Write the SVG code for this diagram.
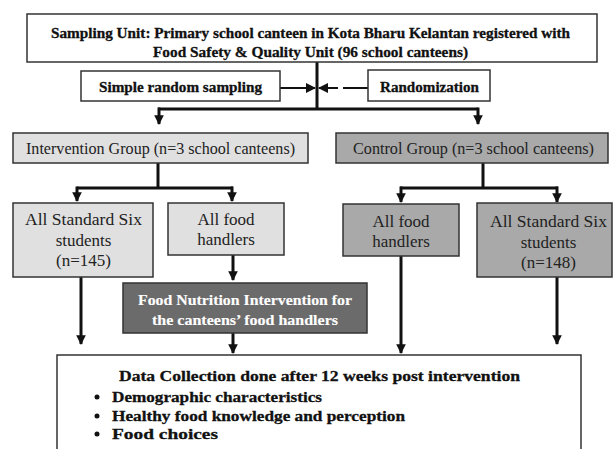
<svg xmlns="http://www.w3.org/2000/svg" width="613" height="449" viewBox="0 0 613 449">
<defs>
<marker id="ah" viewBox="0 0 10 10" refX="9" refY="5" markerWidth="3.2" markerHeight="3.2" orient="auto" markerUnits="strokeWidth">
<path d="M0,0 L10,5 L0,10 z" fill="#111"/>
</marker>
<marker id="ahs" viewBox="0 0 10 10" refX="9" refY="5" markerWidth="5" markerHeight="5" orient="auto" markerUnits="strokeWidth">
<path d="M0,0 L10,5 L0,10 z" fill="#111"/>
</marker>
</defs>
<style>
.box{stroke:#333;stroke-width:1.5}
.w{fill:#fff}
.l{fill:#e0e0e0}
.m{fill:#a9a9a9}
.d{fill:#6b6b6b}
.t{font-family:"Liberation Serif","Times New Roman",serif;font-size:17px;fill:#222;text-anchor:middle}
.b{font-family:"Liberation Serif","Times New Roman",serif;font-size:15px;font-weight:bold;fill:#111;stroke:#111;stroke-width:0.3}
.c{text-anchor:middle}
.wt{fill:#fff;stroke:#fff;stroke-width:0.15}
.k{fill:none;stroke:#111;stroke-width:3}
.k2{fill:none;stroke:#111;stroke-width:2}
</style>
<rect width="613" height="449" fill="#fff"/>
<g id="connectors">
<path class="k" d="M317,62 V109"/>
<path class="k" d="M158,109 H478"/>
<path class="k" d="M159,107.5 V124" marker-end="url(#ah)"/>
<path class="k" d="M478,107.5 V124" marker-end="url(#ah)"/>
<path class="k2" d="M280,88 H315" marker-end="url(#ahs)"/>
<path class="k2" d="M338,88 H319" marker-end="url(#ahs)"/>
<path class="k2" d="M343,88 H368"/>
<path class="k" d="M158,163 V188"/>
<path class="k" d="M77,188 H233"/>
<path class="k" d="M77,186.5 V201" marker-end="url(#ah)"/>
<path class="k" d="M232,186.5 V201" marker-end="url(#ah)"/>
<path class="k" d="M483,163 V188"/>
<path class="k" d="M400,188 H558"/>
<path class="k" d="M401,186.5 V202" marker-end="url(#ah)"/>
<path class="k" d="M557,186.5 V202" marker-end="url(#ah)"/>
<path class="k" d="M233,255 V280" marker-end="url(#ah)"/>
<path class="k" d="M233,333 V353" marker-end="url(#ah)"/>
<path class="k" d="M81,277 V344" marker-end="url(#ah)"/>
<path class="k" d="M401,256 V353" marker-end="url(#ah)"/>
<path class="k" d="M557,277 V344" marker-end="url(#ah)"/>
</g>
<g id="sampling-unit">
<rect class="box w" x="27" y="14" width="570" height="48"/>
<text class="b" x="51" y="38" textLength="519" lengthAdjust="spacingAndGlyphs">Sampling Unit: Primary school canteen in Kota Bharu Kelantan registered with</text>
<text class="b" x="153" y="57" textLength="315" lengthAdjust="spacingAndGlyphs">Food Safety &amp; Quality Unit (96 school canteens)</text>
</g>
<g id="simple-random-sampling">
<rect class="box w" x="81" y="71" width="199" height="30"/>
<text class="b" x="99" y="92" textLength="163" lengthAdjust="spacingAndGlyphs">Simple random sampling</text>
</g>
<g id="randomization">
<rect class="box w" x="368" y="70" width="122" height="31"/>
<text class="b" x="380" y="92" textLength="99" lengthAdjust="spacingAndGlyphs">Randomization</text>
</g>
<g id="intervention-group">
<rect class="box l" x="13" y="133" width="295" height="30"/>
<text class="t" x="160.5" y="154" font-size="16" textLength="269" lengthAdjust="spacingAndGlyphs">Intervention Group (n=3 school canteens)</text>
</g>
<g id="control-group">
<rect class="box m" x="336" y="133" width="272" height="30"/>
<text class="t" x="473.5" y="154" font-size="16" textLength="241" lengthAdjust="spacingAndGlyphs">Control Group (n=3 school canteens)</text>
</g>
<g id="int-students">
<rect class="box l" x="13" y="203" width="140" height="74"/>
<text class="t" x="83.5" y="225" textLength="117" lengthAdjust="spacingAndGlyphs">All Standard Six</text>
<text class="t" x="83.5" y="246">students</text>
<text class="t" x="83.5" y="266">(n=145)</text>
</g>
<g id="int-food-handlers">
<rect class="box l" x="168" y="203" width="116" height="52"/>
<text class="t" x="226" y="225">All food</text>
<text class="t" x="226" y="245">handlers</text>
</g>
<g id="ctl-food-handlers">
<rect class="box m" x="343" y="204" width="116" height="52"/>
<text class="t" x="401" y="227">All food</text>
<text class="t" x="401" y="247">handlers</text>
</g>
<g id="ctl-students">
<rect class="box m" x="477" y="203" width="135" height="74"/>
<text class="t" x="548.5" y="227" textLength="117" lengthAdjust="spacingAndGlyphs">All Standard Six</text>
<text class="t" x="548.5" y="248">students</text>
<text class="t" x="548.5" y="268">(n=148)</text>
</g>
<g id="food-nutrition-intervention">
<rect class="box d" x="123" y="283" width="244" height="50" stroke="#222"/>
<text class="b c wt" x="245" y="305" textLength="214" lengthAdjust="spacingAndGlyphs">Food Nutrition Intervention for</text>
<text class="b c wt" x="245" y="325" textLength="186" lengthAdjust="spacingAndGlyphs">the canteens’ food handlers</text>
</g>
<g id="data-collection">
<rect class="box w" x="57" y="355" width="524" height="100"/>
<text class="b" x="119" y="381" textLength="401" lengthAdjust="spacingAndGlyphs">Data Collection done after 12 weeks post intervention</text>
<circle cx="97" cy="397" r="2.5" fill="#111"/>
<circle cx="97" cy="416" r="2.5" fill="#111"/>
<circle cx="97" cy="434" r="2.5" fill="#111"/>
<text class="b" x="112" y="402" textLength="210" lengthAdjust="spacingAndGlyphs">Demographic characteristics</text>
<text class="b" x="112" y="421" textLength="293" lengthAdjust="spacingAndGlyphs">Healthy food knowledge and perception</text>
<text class="b" x="112" y="439" textLength="106" lengthAdjust="spacingAndGlyphs">Food choices</text>
</g>
</svg>
